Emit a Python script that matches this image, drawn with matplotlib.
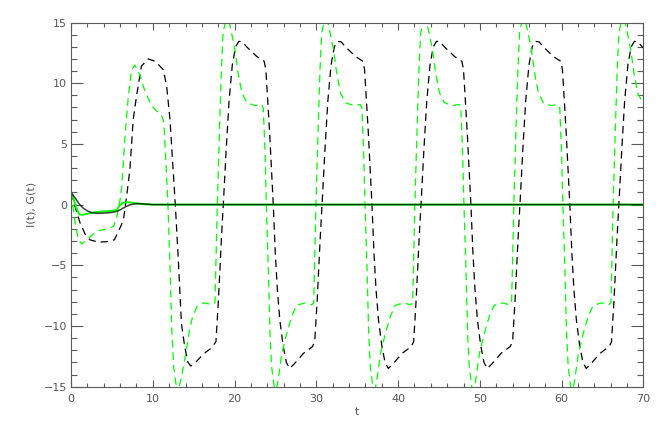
import matplotlib
matplotlib.use("Agg")
import matplotlib.pyplot as plt
from matplotlib.ticker import MultipleLocator

# dashed black curve
t_black_dash = [0.0, 0.5, 1.1, 1.7, 2.3, 3.35, 4.4, 5.3, 5.8, 6.4, 6.8, 7.2, 7.6, 8.0, 8.6, 9.45,
                10.3, 11.3, 11.7, 12.1, 12.75, 13.1, 13.5, 13.9, 14.3, 14.65, 15.3, 16.2, 17.1, 17.72,
                18.02, 18.22, 18.42, 18.62, 18.97, 19.32, 19.72, 20.12, 20.52, 20.97, 21.47, 22.72,
                23.62, 23.83, 24.28, 24.73, 24.98, 25.23, 25.53, 25.93, 26.33, 26.73, 27.33, 28.43,
                29.53, 29.8, 30.1, 30.3, 30.5, 30.7, 31.05, 31.4, 31.8, 32.2, 32.6, 33.05, 33.55,
                34.8, 35.7, 35.9, 36.35, 36.8, 37.05, 37.3, 37.6, 38.0, 38.4, 38.8, 39.4, 40.5,
                41.6, 41.9, 42.2, 42.4, 42.6, 42.8, 43.15, 43.5, 43.9, 44.3, 44.7, 45.15, 45.65,
                46.9, 47.8, 48.0, 48.45, 48.9, 49.15, 49.4, 49.7, 50.1, 50.5, 50.9, 51.5, 52.6,
                53.7, 54.0, 54.3, 54.5, 54.7, 54.9, 55.25, 55.6, 56.0, 56.4, 56.8, 57.25, 57.75,
                59.0, 59.9, 60.1, 60.55, 61.0, 61.25, 61.5, 61.8, 62.2, 62.6, 63.0, 63.6, 64.7,
                65.8, 66.1, 66.4, 66.6, 66.8, 67.0, 67.35, 67.7, 68.1, 68.5, 68.9, 69.35, 69.85, 70.0]
black_dash = [1.0, -0.2, -1.5, -2.4, -2.9, -3.1, -3.05, -2.9, -2.2, -1.3, 0.7, 2.9, 7.0, 8.9, 11.4, 12.0,
              11.8, 11.1, 9.7, 7.0, 0.0, -4.3, -9.8, -11.7, -13.0, -13.3, -12.95, -12.3, -11.85, -11.3,
              -7.9, -5.1, -2.4, 0.0, 4.5, 8.5, 11.5, 13.0, 13.45, 13.4, 13.0, 12.2,
              11.8, 11.1, 6.0, 0.0, -4.0, -7.0, -9.5, -11.6, -13.0, -13.5, -13.1, -12.25,
              -11.7, -11.3, -7.9, -5.1, -2.4, 0.0, 4.5, 8.5, 11.5, 13.0, 13.45, 13.4, 13.0,
              12.2, 11.8, 11.1, 6.0, 0.0, -4.0, -7.0, -9.5, -11.6, -13.0, -13.5, -13.1, -12.25,
              -11.7, -11.3, -7.9, -5.1, -2.4, 0.0, 4.5, 8.5, 11.5, 13.0, 13.45, 13.4, 13.0,
              12.2, 11.8, 11.1, 6.0, 0.0, -4.0, -7.0, -9.5, -11.6, -13.0, -13.5, -13.1, -12.25,
              -11.7, -11.3, -7.9, -5.1, -2.4, 0.0, 4.5, 8.5, 11.5, 13.0, 13.45, 13.4, 13.0,
              12.2, 11.8, 11.1, 6.0, 0.0, -4.0, -7.0, -9.5, -11.6, -13.0, -13.5, -13.1, -12.25,
              -11.7, -11.3, -7.9, -5.1, -2.4, 0.0, 4.5, 8.5, 11.5, 13.0, 13.45, 13.4, 13.0, 12.9]

# dashed green curve
t_green_dash = [0.0, 0.5, 0.9, 1.3, 2.1, 3.1, 4.6, 5.2, 5.6, 6.0, 6.2, 6.6, 7.0, 7.4, 7.8, 8.4, 9.05,
                9.9, 11.1, 11.35, 11.6, 11.85, 12.1, 12.3, 12.55, 13.0, 13.5, 14.1, 14.5, 14.8, 15.4,
                16.2, 17.0, 17.6, 17.89, 18.19, 18.39, 18.59, 19.09, 19.64, 20.04, 20.44, 20.89,
                21.49, 22.49, 23.29, 23.51, 23.73, 23.88, 24.12, 24.33, 24.53, 24.98, 25.38, 25.78,
                26.38, 26.98, 27.58, 28.58, 29.43, 29.68, 29.95, 30.25, 30.45, 30.65, 31.15, 31.7,
                32.1, 32.5, 32.95, 33.55, 34.55, 35.35, 35.57, 35.79, 35.95, 36.19, 36.4, 36.6,
                37.05, 37.45, 37.85, 38.45, 39.05, 39.65, 40.65, 41.5, 41.78, 42.05, 42.35, 42.55,
                42.75, 43.25, 43.8, 44.2, 44.6, 45.05, 45.65, 46.65, 47.45, 47.67, 47.89, 48.05,
                48.29, 48.5, 48.7, 49.15, 49.55, 49.95, 50.55, 51.15, 51.75, 52.75, 53.6, 53.88,
                54.15, 54.45, 54.65, 54.85, 55.35, 55.9, 56.3, 56.7, 57.15, 57.75, 58.75, 59.55,
                59.77, 59.99, 60.15, 60.39, 60.6, 60.8, 61.25, 61.65, 62.05, 62.65, 63.25, 63.85,
                64.85, 65.75, 66.03, 66.3, 66.6, 66.8, 67.0, 67.5, 68.05, 68.45, 68.85, 69.3, 69.9, 70.0]
green_dash = [1.0, -1.5, -2.9, -3.25, -2.8, -2.2, -1.95, -1.8, -1.0, 0.4, 1.5, 5.6, 8.9, 11.1, 11.5, 10.7, 9.3,
              8.1, 7.3, 6.8, 3.6, 0.0, -5.0, -10.0, -13.4, -15.6, -14.2, -12.0, -10.3, -9.4, -8.4,
              -8.1, -8.2, -8.1, 0.0, 7.0, 11.1, 14.1, 15.8, 14.1, 12.75, 10.8, 9.2,
              8.4, 8.15, 8.25, 7.95, 4.2, 0.0, -5.1, -10.6, -13.35, -15.8, -14.2, -12.25,
              -10.6, -9.2, -8.3, -8.1, -8.25, -8.1, 0.0, 7.0, 11.1, 14.1, 15.8, 14.1,
              12.75, 10.8, 9.2, 8.4, 8.15, 8.25, 7.95, 4.2, 0.0, -5.1, -10.6, -13.35,
              -15.8, -14.2, -12.25, -10.6, -9.2, -8.3, -8.1, -8.25, -8.1, 0.0, 7.0, 11.1,
              14.1, 15.8, 14.1, 12.75, 10.8, 9.2, 8.4, 8.15, 8.25, 7.95, 4.2, 0.0,
              -5.1, -10.6, -13.35, -15.8, -14.2, -12.25, -10.6, -9.2, -8.3, -8.1, -8.25, -8.1,
              0.0, 7.0, 11.1, 14.1, 15.8, 14.1, 12.75, 10.8, 9.2, 8.4, 8.15, 8.25,
              7.95, 4.2, 0.0, -5.1, -10.6, -13.35, -15.8, -14.2, -12.25, -10.6, -9.2, -8.3,
              -8.1, -8.25, -8.1, 0.0, 7.0, 11.1, 14.1, 15.8, 14.1, 12.75, 10.8, 9.2, 8.4, 8.4]

# solid curves (decay to zero)
t_black_solid = [0.0, 0.5, 1.0, 1.5, 2.0, 2.5, 3.2, 4.0, 5.0, 5.6, 6.1, 6.6, 7.2, 8.0, 9.0, 10.0, 70.0]
black_solid = [1.0, 0.55, 0.05, -0.3, -0.52, -0.66, -0.72, -0.7, -0.65, -0.55, -0.4, -0.2, -0.02,
               0.08, 0.05, 0.0, 0.0]
t_green_solid = [0.0, 0.3, 0.6, 1.0, 1.4, 2.3, 3.5, 5.0, 5.6, 5.9, 6.3, 7.0, 8.0, 9.0, 10.0, 70.0]
green_solid = [1.05, 0.5, -0.2, -0.8, -0.85, -0.7, -0.58, -0.52, -0.45, -0.1, 0.15, 0.2, 0.1, 0.03,
               0.0, 0.0]

axis_col = '#5a5a5a'
text_col = '#555555'

fig = plt.figure(figsize=(6.64, 4.33), dpi=100)
ax = fig.add_axes([0.107, 0.107, 0.862, 0.841])

ax.plot(t_black_dash, black_dash, color='black', lw=0.9, dashes=(6, 4))
ax.plot(t_green_dash, green_dash, color='#00ff00', lw=0.9, dashes=(6, 4))
ax.plot(t_green_solid, green_solid, color='#00ff00', lw=1.4)
ax.plot(t_black_solid, black_solid, color='black', lw=1.1, alpha=0.75)

ax.set_xlim(0, 70)
ax.set_ylim(-15, 15)
ax.xaxis.set_major_locator(MultipleLocator(10))
ax.xaxis.set_minor_locator(MultipleLocator(2))
ax.yaxis.set_major_locator(MultipleLocator(5))
ax.yaxis.set_minor_locator(MultipleLocator(1))

ax.tick_params(axis='both', which='both', direction='in', top=True, right=True,
               colors=axis_col, labelcolor=text_col, labelsize=8, width=0.8)
ax.tick_params(axis='x', which='major', length=5, pad=5)
ax.tick_params(axis='x', which='minor', length=2.8)
ax.tick_params(axis='y', which='major', length=8.5, pad=3)
ax.tick_params(axis='y', which='minor', length=4.5)
for sp in ax.spines.values():
    sp.set_color(axis_col)
    sp.set_linewidth(0.8)

ax.set_xlabel('t', color=text_col, fontsize=8)
ax.set_ylabel('I(t), G(t)', color=text_col, fontsize=8)
ax.xaxis.set_label_coords(0.5, -0.056)
ax.yaxis.set_label_coords(-0.06, 0.5)

fig.savefig('out.png', dpi=100)
